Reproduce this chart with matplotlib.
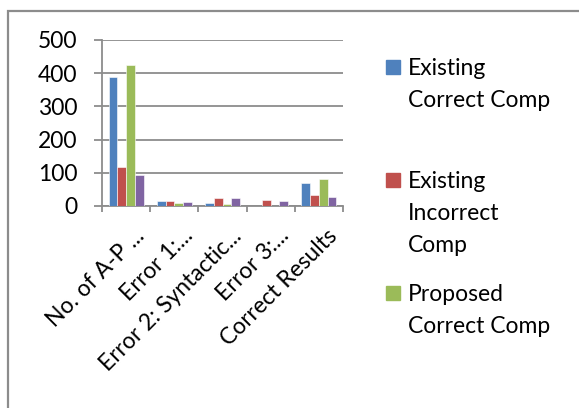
import matplotlib.pyplot as plt
import matplotlib.transforms as mtransforms
import numpy as np
from matplotlib.patches import Rectangle

categories = ['No. of A-P ...', 'Error 1:...', 'Error 2: Syntactic...', 'Error 3:...', 'Correct Results']
series_names = ['Existing\nCorrect Comp', 'Existing\nIncorrect\nComp', 'Proposed\nCorrect Comp', 'Proposed\nIncorrect Comp']
existing_correct = [388, 14, 10, 0, 70]
existing_incorrect = [117, 16, 25, 18, 33]
proposed_correct = [425, 8, 7, 0, 80]
proposed_incorrect = [92, 13, 23, 16, 26]
colors = ['#4F81BD', '#C0504D', '#9BBB59', '#8064A2']

plt.rcParams['font.family'] = ['Lato', 'DejaVu Sans']

W, H = 579, 408
fig = plt.figure(figsize=(W / 100, H / 100), dpi=100)
ax = fig.add_axes([102 / W, 1 - 206 / H, 241 / W, 166 / H])

# outer chart frame (cut off at right and bottom)
fig.patches.append(Rectangle((8 / W, -0.1), 1.2, 1 - 11 / H + 0.1, transform=fig.transFigure,
                             fill=False, edgecolor='#8c8c8c', linewidth=1.6))

all_series = [existing_correct, existing_incorrect, proposed_correct, proposed_incorrect]
x = np.arange(len(categories))
bw = 1 / 5.5
for i, vals in enumerate(all_series):
    ax.bar(x + (i - 1.5) * bw, vals, bw, color=colors[i], edgecolor='white', linewidth=0.4, zorder=3)

ax.set_xlim(-0.5, len(categories) - 0.5)
ax.set_ylim(0, 500)
ax.set_yticks([0, 100, 200, 300, 400, 500])
ax.yaxis.grid(True, color='#8c8c8c', linewidth=1.3, zorder=0)
for s in ['top', 'right']:
    ax.spines[s].set_visible(False)
for s in ['left', 'bottom']:
    ax.spines[s].set_color('#8c8c8c')
    ax.spines[s].set_linewidth(1.3)
ax.tick_params(axis='y', length=5.8, width=1.3, color='#8c8c8c', pad=12, labelsize=16.5)
ax.set_xticks(np.arange(len(categories) + 1) - 0.5)
ax.set_xticklabels([])
ax.tick_params(axis='x', length=4.5, width=1.3, color='#8c8c8c')
ax.set_xticks(x, minor=True)
ax.set_xticklabels(categories, minor=True, rotation=45, ha='right', va='top',
                   rotation_mode='anchor', fontsize=16.5)
ax.tick_params(axis='x', which='minor', length=0, pad=8)
shift = mtransforms.ScaledTranslation(8 / 100, -8 / 100, fig.dpi_scale_trans)
for lbl in ax.get_xticklabels(minor=True):
    lbl.set_transform(lbl.get_transform() + shift)

# legend: only first three entries fit in the chart area
legend_y = [67, 180, 293]
for i in range(3):
    yc = legend_y[i]
    fig.patches.append(Rectangle((386 / W, 1 - (yc + 7) / H), 14 / W, 14 / H,
                                 transform=fig.transFigure, color=colors[i]))
    fig.text(408 / W, 1 - (yc - 9) / H, series_names[i], fontsize=16.5, va='top', ha='left',
             linespacing=1.65)

fig.savefig('out.png', dpi=100)
